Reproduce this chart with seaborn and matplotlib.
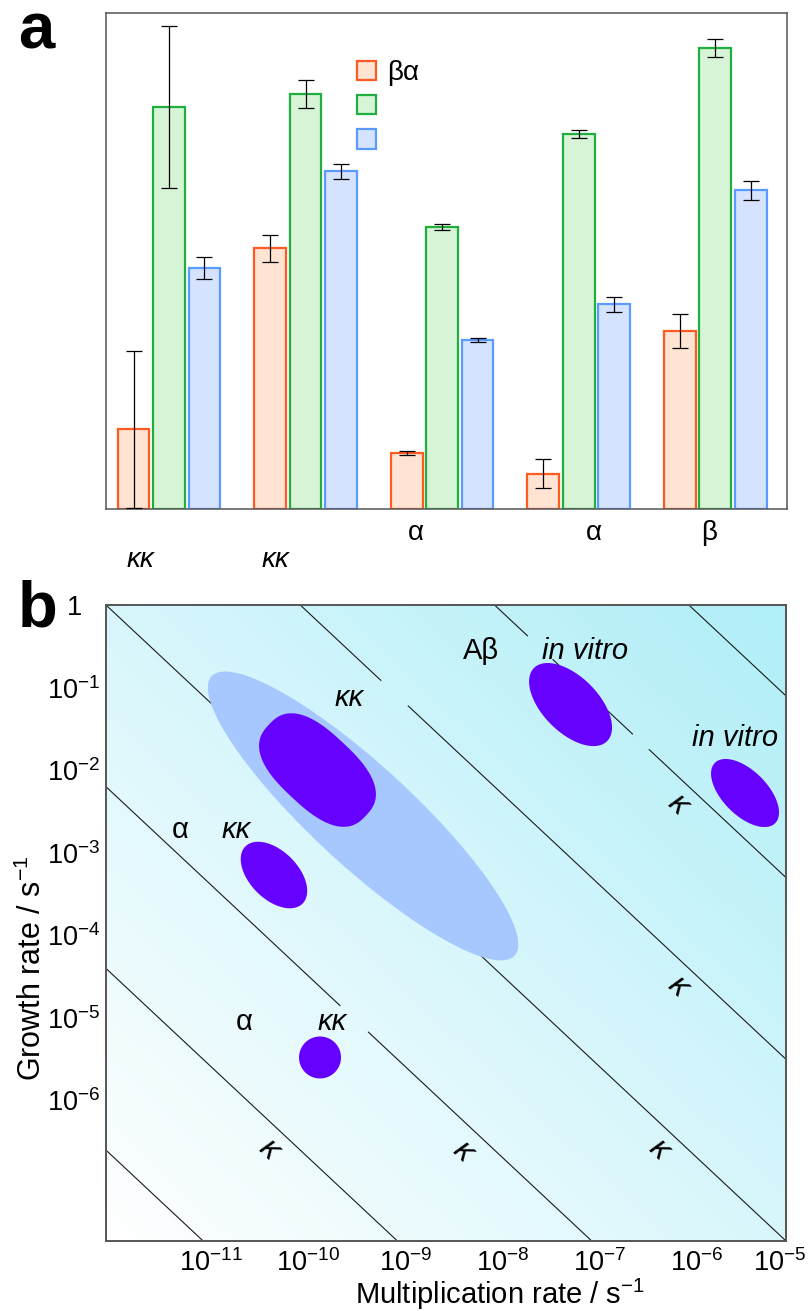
import numpy as np
import pandas as pd
import matplotlib
matplotlib.use("Agg")
import matplotlib.pyplot as plt
import seaborn as sns
from matplotlib.patches import Patch
from matplotlib.colors import LinearSegmentedColormap
from matplotlib.transforms import ScaledTranslation

# ---------------- panel a data (arbitrary units)
groups = ["g1", "g2", "g3", "g4", "g5"]
series = ["βα", " ", "  "]
orange_vals = [16.1, 52.6, 11.3, 7.1, 35.9]
green_vals = [81.0, 83.7, 56.9, 75.6, 92.9]
blue_vals = [48.6, 68.1, 34.1, 41.3, 64.3]
orange_err = [15.8, 2.7, 0.5, 2.9, 3.4]
green_err = [16.3, 2.8, 0.6, 0.8, 1.8]
blue_err = [2.2, 1.5, 0.4, 1.5, 1.9]

face_colors = ["#FFE3D3", "#D7F4D6", "#D5E3FF"]
edge_colors = ["#FF5A1F", "#1FAF3F", "#5B9BFF"]

# leftover label fragments under panel a
a_labels = ["κκ", "κκ", "α", "α", "β"]
a_label_x = [-0.21, 0.78, 1.81, 3.11, 3.96]
a_label_y = [-0.103, -0.103, -0.048, -0.048, -0.048]
a_label_italic = [True, True, False, False, False]

# ---------------- panel b data
x_ticks = [1e-11, 1e-10, 1e-9, 1e-8, 1e-7, 1e-6, 1e-5]
x_ticklabels = ["$10^{-11}$", "$10^{-10}$", "$10^{-9}$", "$10^{-8}$",
                "$10^{-7}$", "$10^{-6}$", "$10^{-5}$"]
y_ticks = [1, 1e-1, 1e-2, 1e-3, 1e-4, 1e-5, 1e-6]
y_ticklabels = ["1", "$10^{-1}$", "$10^{-2}$", "$10^{-3}$", "$10^{-4}$",
                "$10^{-5}$", "$10^{-6}$"]

# iso-kappa lines: log10(multiplication rate) where each line reaches growth = 1
kappa_x0 = [-18, -16, -14, -12, -10, -8, -6]
kappa_slope = 1.1
# breaks in the lines (log10 multiplication rate)
gap_line = [-10, -14, -8, -8]
gap_lo = [-9.17, -9.59, -7.66, -6.58]
gap_hi = [-8.89, -9.30, -7.40, -6.41]

# regions (log10 centre + conjugate semi-axes in decades, superellipse power)
ell_cx = [-9.354, -9.823, -10.271, -9.797, -7.218, -5.422]
ell_cy = [-2.554, -1.998, -3.269, -5.478, -1.205, -2.276]
ell_ax = [1.559, 0.500, 0.294, 0.216, 0.376, 0.310]
ell_ay = [-1.691, -0.550, -0.346, 0.0, -0.443, -0.365]
ell_bx = [-0.349, -0.262, -0.175, 0.0, -0.202, -0.162]
ell_by = [-0.445, -0.330, -0.206, -0.254, -0.238, -0.191]
ell_power = [2.0, 2.6, 2.0, 2.0, 2.0, 2.0]
ell_color = ["#A7C8FF", "#6600FF", "#6600FF", "#6600FF", "#6600FF", "#6600FF"]

# annotations (log10 positions)
b_text = ["Aβ", "in vitro", "in vitro", "κκ", "α", "κκ", "α", "κκ"]
b_text_x = [-8.140, -7.064, -5.525, -9.498, -11.238, -10.662, -10.574, -9.668]
b_text_y = [-0.557, -0.557, -1.610, -1.126, -2.724, -2.724, -5.048, -5.048]
b_text_italic = [False, True, True, True, False, True, False, True]
kappa_lbl_x = [-10.322, -8.325, -6.307, -6.112, -6.112]
kappa_lbl_y = [-6.598, -6.622, -6.598, -2.421, -4.625]

sns.set_theme(style="white")
plt.rcParams["font.family"] = ["Liberation Sans", "DejaVu Sans"]
plt.rcParams["mathtext.fontset"] = "custom"
plt.rcParams["mathtext.rm"] = "Liberation Sans"
plt.rcParams["mathtext.it"] = "Liberation Sans:italic"
plt.rcParams["mathtext.default"] = "regular"
plt.rcParams["text.color"] = "black"
plt.rcParams["axes.labelcolor"] = "black"
plt.rcParams["xtick.color"] = "black"
plt.rcParams["ytick.color"] = "black"

fig = plt.figure(figsize=(8.11, 13.11), dpi=100)

# ================= panel a
ax1 = fig.add_axes([0.1307, 0.6117, 0.8397, 0.3784])
df = pd.DataFrame({
    "group": groups * 3,
    "series": [series[0]] * 5 + [series[1]] * 5 + [series[2]] * 5,
    "value": orange_vals + green_vals + blue_vals,
})
sns.barplot(data=df, x="group", y="value", hue="series", hue_order=series,
            order=groups, palette=face_colors, saturation=1, width=0.78,
            gap=0.1, errorbar=None, legend=False, linewidth=1.6, ax=ax1)

errs = [orange_err, green_err, blue_err]
vals = [orange_vals, green_vals, blue_vals]
for cont, ec, err, val in zip(ax1.containers, edge_colors, errs, vals):
    xs = []
    for bar in cont:
        bar.set_edgecolor(ec)
        bar.set_linewidth(1.6)
        xs.append(bar.get_x() + bar.get_width() / 2)
    ax1.errorbar(xs, val, yerr=err, fmt="none", ecolor="black",
                 elinewidth=0.9, capsize=6, capthick=0.9, zorder=5)

ax1.set_xlim(-0.4615, 4.527)
ax1.set_ylim(0, 100)
ax1.set_xticks([])
ax1.set_yticks([])
ax1.set_xlabel("")
ax1.set_ylabel("")
for sp in ax1.spines.values():
    sp.set_color("#555555")
    sp.set_linewidth(1.1)

handles = [Patch(facecolor=f, edgecolor=e, linewidth=1.6)
           for f, e in zip(face_colors, edge_colors)]
ax1.legend(handles, series, loc="upper left", bbox_to_anchor=(0.3686, 0.905),
           frameon=False, fontsize=20, handlelength=0.68, handleheight=0.68,
           handletextpad=0.4, labelspacing=0.3, borderpad=0, borderaxespad=0)

for t, x, y, it in zip(a_labels, a_label_x, a_label_y, a_label_italic):
    ax1.text(x, y, t, transform=ax1.get_xaxis_transform(), ha="center",
             va="center", fontsize=20, style="italic" if it else "normal",
             clip_on=False)

# ================= panel b
pos_b = [0.1307, 0.0534, 0.8385, 0.4851]
bg = fig.add_axes(pos_b, zorder=0)
gx, gy = np.meshgrid(np.linspace(0, 1, 300), np.linspace(0, 1, 300))
cmap = LinearSegmentedColormap.from_list("bgcyan", ["#FFFFFF", "#B0EEF8"])
bg.imshow((gx + gy) / 2, cmap=cmap, origin="lower", aspect="auto",
          extent=(0, 1, 0, 1), vmin=0, vmax=1)
bg.axis("off")

ax2 = fig.add_axes(pos_b, zorder=1)
ax2.patch.set_alpha(0)
ax2.set_xscale("log")
ax2.set_yscale("log")

lm = np.linspace(-20, -4, 1601)
for x0 in kappa_x0:
    lg = -kappa_slope * (lm - x0)
    for gl, lo, hi in zip(gap_line, gap_lo, gap_hi):
        if gl == x0:
            lg[(lm > lo) & (lm < hi)] = np.nan
    ax2.plot(10 ** lm, 10 ** lg, color="#1a1a1a", lw=0.8, zorder=2)

t = np.linspace(0, 2 * np.pi, 600)
for i in range(len(ell_cx)):
    e = 2.0 / ell_power[i]
    c = np.sign(np.cos(t)) * np.abs(np.cos(t)) ** e
    s = np.sign(np.sin(t)) * np.abs(np.sin(t)) ** e
    ex = ell_cx[i] + ell_ax[i] * c + ell_bx[i] * s
    ey = ell_cy[i] + ell_ay[i] * c + ell_by[i] * s
    ax2.fill(10 ** ex, 10 ** ey, color=ell_color[i], lw=0,
             zorder=3 if i == 0 else 4)

for s_, x, y, it in zip(b_text, b_text_x, b_text_y, b_text_italic):
    ax2.text(10 ** x, 10 ** y, s_, ha="center", va="center", fontsize=21,
             style="italic" if it else "normal", zorder=5)
for x, y in zip(kappa_lbl_x, kappa_lbl_y):
    ax2.text(10 ** x, 10 ** y, "κ", ha="center", va="center", fontsize=23,
             style="italic", rotation=-43, zorder=5)

ax2.set_xlim(1e-12, 1e-5)
ax2.set_ylim(10 ** -7.7, 1)
ax2.set_xticks(x_ticks)
ax2.set_xticklabels(x_ticklabels)
ax2.set_yticks(y_ticks)
ax2.set_yticklabels(y_ticklabels)
ax2.minorticks_off()
ax2.tick_params(axis="both", length=0, labelsize=19.5, labelcolor="black")
ax2.tick_params(axis="x", pad=6)
ax2.tick_params(axis="y", pad=23)
for lab in ax2.get_yticklabels():
    lab.set_horizontalalignment("center")
x_shift_px = [8, 8, 8, 8, 8, 8, -6]
for lab, dx in zip(ax2.get_xticklabels(), x_shift_px):
    lab.set_transform(lab.get_transform()
                      + ScaledTranslation(dx / 100, 0, fig.dpi_scale_trans))
for sp in ax2.spines.values():
    sp.set_color("#555555")
    sp.set_linewidth(1.4)

ax2.set_xlabel("Multiplication rate / s$^{-1}$", fontsize=21, color="black")
ax2.xaxis.set_label_coords(0.579, -0.056)
ax2.set_ylabel("Growth rate / s$^{-1}$", fontsize=22, color="black")
ax2.yaxis.set_label_coords(-0.085, 0.429)

fig.text(0.022, 0.999, "a", fontsize=47, weight="bold", va="top")
fig.text(0.022, 0.558, "b", fontsize=47, weight="bold", va="top")

fig.savefig("out.png", dpi=100)
